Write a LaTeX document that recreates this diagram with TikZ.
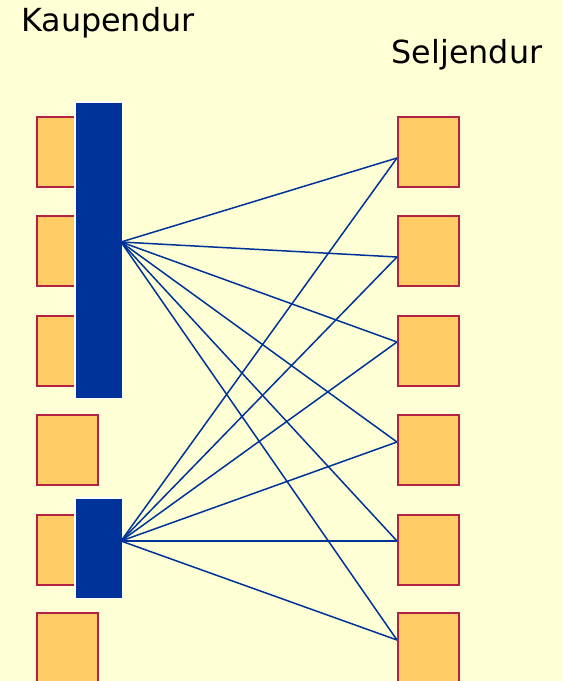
\documentclass[tikz,border=0pt]{standalone}
\usepackage{fontspec}
\newfontfamily\labelfont{DejaVu Sans}
\definecolor{paper}{RGB}{255,255,213}
\definecolor{boxfill}{RGB}{255,204,102}
\definecolor{boxline}{RGB}{178,34,68}
\definecolor{barblue}{RGB}{0,51,153}

\begin{document}
\begin{tikzpicture}[
    x=1pt, y=-1pt,
    party/.style={
        rectangle,
        draw=boxline,
        fill=boxfill,
        line width=2.2pt,
        minimum width=61pt,
        minimum height=70pt,
        inner sep=0pt,
        anchor=north west
    },
    bar/.style={
        rectangle,
        draw=white,
        fill=barblue,
        line width=1.5pt,
        minimum width=47.5pt,
        inner sep=0pt,
        anchor=north west
    },
    link/.style={draw=barblue, line width=1.5pt},
    title/.style={font=\labelfont\fontsize{31.8}{38}\selectfont, anchor=base west, inner sep=0pt}
]

    % Taust
    \fill[paper] (0,0) rectangle (563,681);
    \useasboundingbox (0,0) rectangle (563,681);

    % Pealkirjad
    \node[title] (kaup) at (21,31) {Kaupendur};
    \node[title] (selj) at (391.5,63) {Seljendur};

    % Kaupendate kastid
    \foreach \i/\y in {1/116,2/215,3/315,4/414,5/514,6/612}
        \node[party] (k\i) at (36,\y) {};

    % Sinised ribad
    \node[bar, minimum height=296.5pt] (ostja1) at (74.25,101.25) {};
    \node[bar, minimum height=100.5pt] (ostja2) at (74.25,497.25) {};
    \coordinate (h1) at (121,242);
    \coordinate (h2) at (121,541);

    % Seljendate kastid
    \foreach \i/\y/\t in {1/116/158,2/215/257,3/315/342,4/414/442,5/514/541,6/612/640}
        \coordinate (m\i) at (397,\t);

    % Ühendused
    \foreach \h in {h1,h2}
        \foreach \i in {1,...,6}
            \draw[link] (\h) -- (m\i);

    \foreach \i/\y in {1/116,2/215,3/315,4/414,5/514,6/612}
        \node[party] (s\i) at (397,\y) {};
\end{tikzpicture}
\end{document}
